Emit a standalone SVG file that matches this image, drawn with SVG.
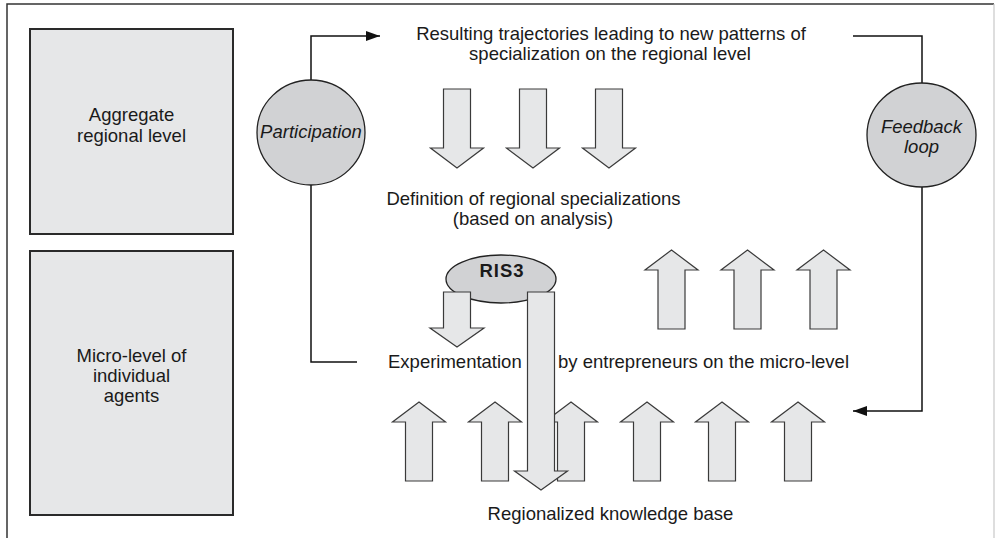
<svg xmlns="http://www.w3.org/2000/svg" width="997" height="538" viewBox="0 0 997 538">
  <style>
    .txt { font-family: "Liberation Sans", Arial, sans-serif; font-size: 18.5px; fill: #1a1a1a; }
    .it { font-style: italic; }
    .bold { font-weight: bold; }
    .box { fill: #e6e7e8; stroke: #2a2a2a; stroke-width: 2; }
    .oval { fill: #d1d2d4; stroke: #222; stroke-width: 1.3; }
    .arr { fill: #e6e7e8; stroke: #3a3a3a; stroke-width: 1.2; stroke-linejoin: miter; }
    .conn { fill: none; stroke: #111; stroke-width: 1.5; }
  </style>
  <defs>
    <marker id="head" markerWidth="14" markerHeight="10" refX="14" refY="5" orient="auto" markerUnits="userSpaceOnUse">
      <path d="M0,0 L14,5 L0,10 Z" fill="#111"/>
    </marker>
    <!-- block arrows, 79px long, drawn from their origin -->
    <path id="down" d="M-13.5,0 H13.5 V59 H26.5 L0,79 L-26.5,59 H-13.5 Z"/>
    <path id="up" d="M0,0 L26.5,20 H13.5 V79 H-13.5 V20 H-26.5 Z"/>
  </defs>

  <rect width="997" height="538" fill="#fff"/>

  <!-- outer frame -->
  <path d="M7,540 V4 H994" fill="none" stroke="#333" stroke-width="1.5"/>
  <line x1="994" y1="4" x2="994" y2="540" stroke="#c8c8c8" stroke-width="1.2"/>

  <!-- level boxes -->
  <g id="aggregate-level">
    <rect class="box" x="30" y="29" width="203" height="205"/>
    <text class="txt" x="131.5" y="121" text-anchor="middle">Aggregate</text>
    <text class="txt" x="131.5" y="142" text-anchor="middle">regional level</text>
  </g>
  <g id="micro-level">
    <rect class="box" x="30" y="251" width="203" height="264"/>
    <text class="txt" x="131.5" y="362" text-anchor="middle">Micro-level of</text>
    <text class="txt" x="131.5" y="382" text-anchor="middle">individual</text>
    <text class="txt" x="131.5" y="402" text-anchor="middle">agents</text>
  </g>

  <!-- connectors -->
  <g id="connectors">
    <path class="conn" d="M311,80 V36 H380" marker-end="url(#head)"/>
    <path class="conn" d="M311,185 V362 H357"/>
    <path class="conn" d="M853,36 H922 V83"/>
    <path class="conn" d="M922,187 V411 H853" marker-end="url(#head)"/>
  </g>

  <g id="participation">
    <ellipse class="oval" cx="311" cy="132.5" rx="54" ry="52.5"/>
    <text class="txt it" x="311" y="138" text-anchor="middle">Participation</text>
  </g>
  <g id="feedback-loop">
    <ellipse class="oval" cx="921.5" cy="135" rx="54.5" ry="52"/>
    <text class="txt it" x="921.5" y="133" text-anchor="middle">Feedback</text>
    <text class="txt it" x="921.5" y="153" text-anchor="middle">loop</text>
  </g>

  <g id="trajectories">
    <text class="txt" x="611" y="40" text-anchor="middle">Resulting trajectories leading to new patterns of</text>
    <text class="txt" x="610" y="60" text-anchor="middle">specialization on the regional level</text>
  </g>

  <g id="arrows-down-top">
    <use href="#down" class="arr" transform="translate(457,89)"/>
    <use href="#down" class="arr" transform="translate(533,89)"/>
    <use href="#down" class="arr" transform="translate(609,89)"/>
  </g>

  <g id="definition">
    <text class="txt" x="533.5" y="205" text-anchor="middle">Definition of regional specializations</text>
    <text class="txt" x="533" y="225" text-anchor="middle">(based on analysis)</text>
  </g>

  <g id="arrows-up-mid">
    <use href="#up" class="arr" transform="translate(671.5,250)"/>
    <use href="#up" class="arr" transform="translate(747.5,250)"/>
    <use href="#up" class="arr" transform="translate(823.5,250)"/>
  </g>

  <g id="experimentation">
    <text class="txt" x="388" y="368">Experimentation</text>
    <text class="txt" x="558" y="368">by entrepreneurs on the micro-level</text>
  </g>

  <g id="arrows-up-bottom">
    <use href="#up" class="arr" transform="translate(419,402)"/>
    <use href="#up" class="arr" transform="translate(495,402)"/>
    <use href="#up" class="arr" transform="translate(571,402)"/>
    <use href="#up" class="arr" transform="translate(647,402)"/>
    <use href="#up" class="arr" transform="translate(722,402)"/>
    <use href="#up" class="arr" transform="translate(798,402)"/>
  </g>

  <g id="ris3">
    <ellipse class="oval" cx="501" cy="279" rx="55" ry="24"/>
    <text class="txt bold" x="502" y="277" text-anchor="middle" letter-spacing="1">RIS3</text>
    <path class="arr" d="M443.5,292 H470.5 V328 H484 L457,347 L430,328 H443.5 Z"/>
    <path class="arr" d="M527.5,292 H554.5 V471 H567.5 L541,490 L514.5,471 H527.5 Z"/>
  </g>

  <g id="knowledge-base">
    <text class="txt" x="610.5" y="520" text-anchor="middle">Regionalized knowledge base</text>
  </g>
</svg>
